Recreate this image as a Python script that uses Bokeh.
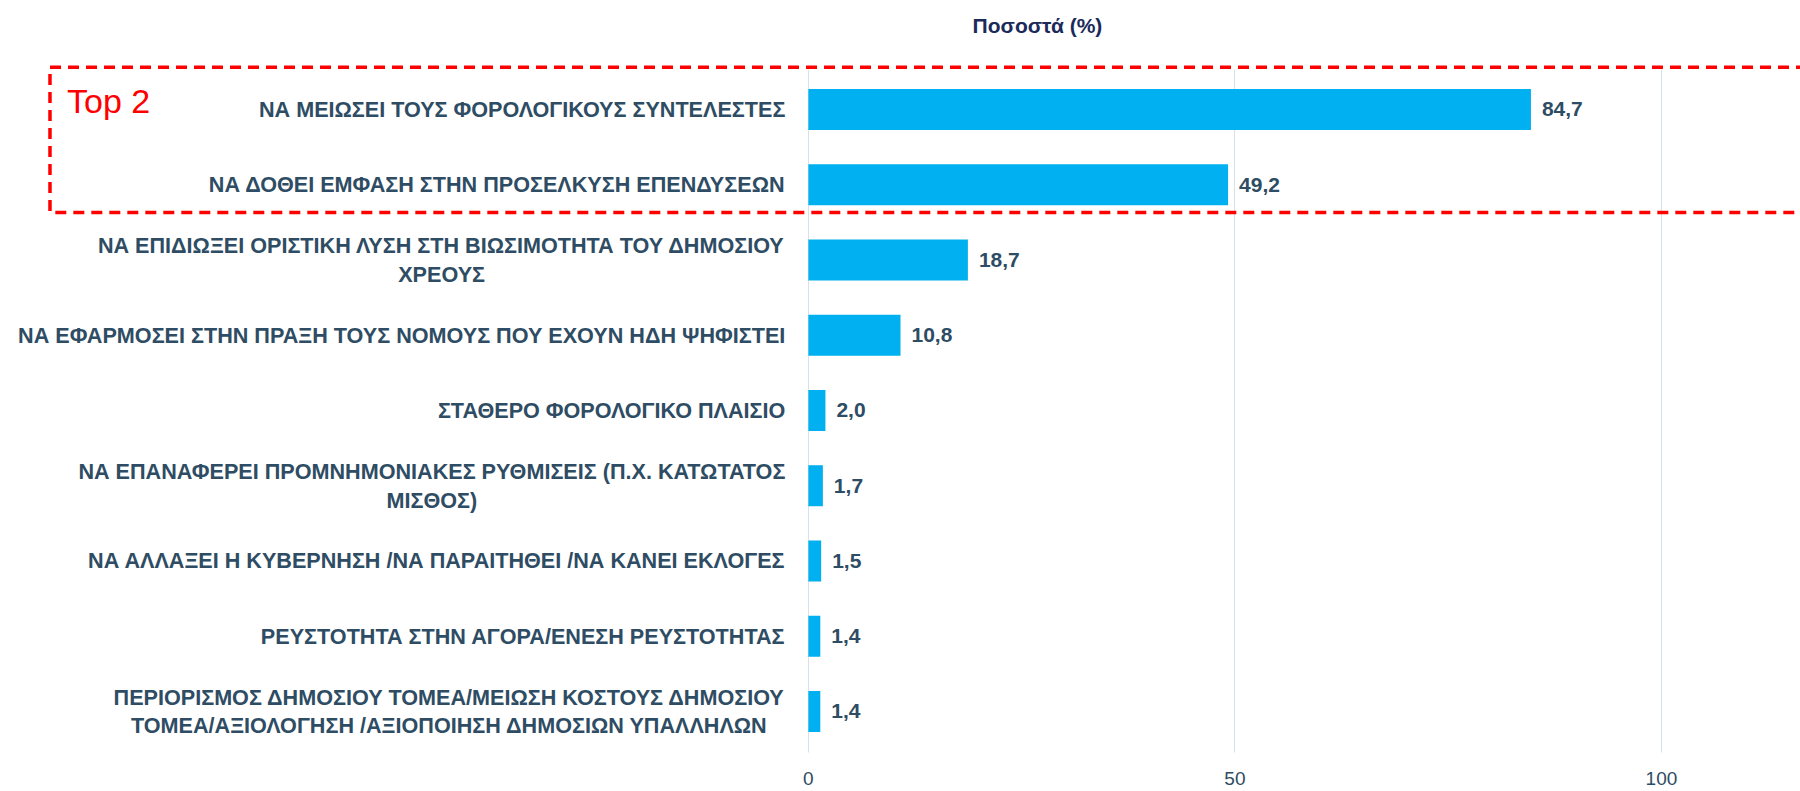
from bokeh.plotting import figure
from bokeh.models import ColumnDataSource, FixedTicker, BoxAnnotation, Range1d
from bokeh.core.properties import value
from bokeh.embed import file_html
from bokeh.resources import INLINE

categories = [
    "ΝΑ ΜΕΙΩΣΕΙ ΤΟΥΣ ΦΟΡΟΛΟΓΙΚΟΥΣ ΣΥΝΤΕΛΕΣΤΕΣ",
    "ΝΑ ΔΟΘΕΙ ΕΜΦΑΣΗ ΣΤΗΝ ΠΡΟΣΕΛΚΥΣΗ ΕΠΕΝΔΥΣΕΩΝ",
    "ΝΑ ΕΠΙΔΙΩΞΕΙ ΟΡΙΣΤΙΚΗ ΛΥΣΗ ΣΤΗ ΒΙΩΣΙΜΟΤΗΤΑ ΤΟΥ ΔΗΜΟΣΙΟΥ\nΧΡΕΟΥΣ",
    "ΝΑ ΕΦΑΡΜΟΣΕΙ ΣΤΗΝ ΠΡΑΞΗ ΤΟΥΣ ΝΟΜΟΥΣ ΠΟΥ ΕΧΟΥΝ ΗΔΗ ΨΗΦΙΣΤΕΙ",
    "ΣΤΑΘΕΡΟ ΦΟΡΟΛΟΓΙΚΟ ΠΛΑΙΣΙΟ",
    "ΝΑ ΕΠΑΝΑΦΕΡΕΙ ΠΡΟΜΝΗΜΟΝΙΑΚΕΣ ΡΥΘΜΙΣΕΙΣ (Π.Χ. ΚΑΤΩΤΑΤΟΣ\nΜΙΣΘΟΣ)",
    "ΝΑ ΑΛΛΑΞΕΙ Η ΚΥΒΕΡΝΗΣΗ /ΝΑ ΠΑΡΑΙΤΗΘΕΙ /ΝΑ ΚΑΝΕΙ ΕΚΛΟΓΕΣ",
    "ΡΕΥΣΤΟΤΗΤΑ ΣΤΗΝ ΑΓΟΡΑ/ΕΝΕΣΗ ΡΕΥΣΤΟΤΗΤΑΣ",
    "ΠΕΡΙΟΡΙΣΜΟΣ ΔΗΜΟΣΙΟΥ ΤΟΜΕΑ/ΜΕΙΩΣΗ ΚΟΣΤΟΥΣ ΔΗΜΟΣΙΟΥ\nΤΟΜΕΑ/ΑΞΙΟΛΟΓΗΣΗ /ΑΞΙΟΠΟΙΗΣΗ ΔΗΜΟΣΙΩΝ ΥΠΑΛΛΗΛΩΝ",
]
values = [84.7, 49.2, 18.7, 10.8, 2.0, 1.7, 1.5, 1.4, 1.4]
x_ticks = [0, 50, 100]
title_text = "Ποσοστά (%)"
highlight_text = "Top 2"

FONT = "Liberation Sans"
TEXT_COLOR = "#2E4C63"

pos = list(range(len(categories)))
src = ColumnDataSource(dict(
    y=pos,
    v=values,
    cat=categories,
    lab=[f"{v:.1f}".replace(".", ",") for v in values],
    lx=[-2.7] * len(pos),
))

p = figure(
    width=1800, height=791,
    output_backend="svg", toolbar_location=None,
    x_range=Range1d(-94.7, 116.3),
    y_range=Range1d(8.585, -1.4485),
    min_border_left=0, min_border_right=0,
    min_border_top=0, min_border_bottom=36,
    y_axis_location=None,
)
p.outline_line_color = None
p.background_fill_color = "white"

p.xaxis.ticker = FixedTicker(ticks=x_ticks)
p.xaxis.axis_line_color = None
p.xaxis.major_tick_line_color = None
p.xaxis.minor_tick_line_color = None
p.xaxis.major_label_text_font = FONT
p.xaxis.major_label_text_font_size = "19px"
p.xaxis.major_label_text_color = TEXT_COLOR
p.xaxis.major_label_standoff = 10

p.xgrid.ticker = FixedTicker(ticks=x_ticks)
p.xgrid.grid_line_color = "#D6E1EA"
p.xgrid.grid_line_width = 1
p.xgrid.cross_bounds = (-0.53, 8.545)
p.ygrid.grid_line_color = None

p.hbar(y="y", left=0, right="v", height=0.545, source=src,
       fill_color="#00B0F0", line_color=None)

p.text(x="v", y="y", text="lab", source=src, x_offset=11,
       text_align="left", text_baseline="middle",
       text_font=value(FONT), text_font_size="21px",
       text_font_style="bold", text_color=TEXT_COLOR)

p.text(x="lx", y="y", text="cat", source=src,
       anchor=value("center_right"), text_align="center",
       text_baseline="middle", text_line_height=1.15,
       text_font=value(FONT), text_font_size="21.6px",
       text_font_style="bold", text_color=TEXT_COLOR)

p.text(x=[26.85], y=[-1.116], text=[title_text],
       text_align="center", text_baseline="middle",
       text_font=value(FONT), text_font_size="21px",
       text_font_style="bold", text_color="#1B2A5A")

box = BoxAnnotation(left=-88.9, right=200, top=-0.56, bottom=1.37,
                    fill_color=None, fill_alpha=0,
                    line_color="#FF0000", line_alpha=1.0, line_width=3.5,
                    line_dash="11 7")
p.add_layout(box)

p.text(x=[-86.9], y=[-0.11], text=[highlight_text],
       text_align="left", text_baseline="middle",
       text_font=value(FONT), text_font_size="34px",
       text_color="#FF0000")

open("out.html", "w").write(file_html(p, INLINE))
